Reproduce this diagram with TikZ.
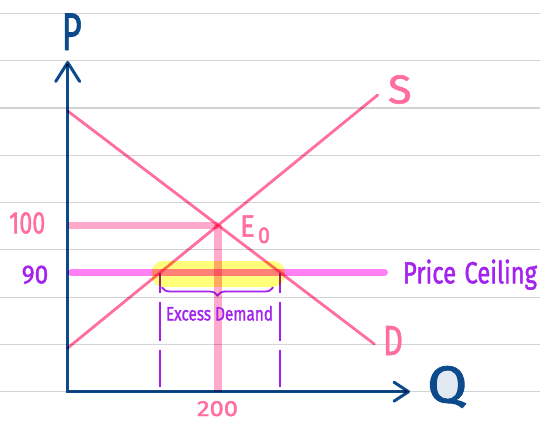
\documentclass[tikz,border=0pt]{standalone}
\usepackage{graphicx}
\usepackage{fontspec}
\setmainfont{Fira Sans}[FakeBold=1.3]
\newfontfamily\thickf{Fira Sans}[FakeBold=1.6]
\usetikzlibrary{arrows.meta,intersections,decorations.pathreplacing}
\definecolor{gridgray}{HTML}{D3D3D3}
\definecolor{axisblue}{HTML}{0D4A8C}
\definecolor{curvepink}{HTML}{FF6E9E}
\definecolor{lightpink}{HTML}{FFAACC}
\definecolor{ceilmag}{HTML}{FF80F5}
\definecolor{labpurple}{HTML}{A322F0}
\definecolor{hlyellow}{HTML}{FFFF7A}
\definecolor{qfill}{HTML}{E2E8F2}
\newcommand\fitw[3]{\resizebox{#1}{\height}{\fontsize{#2}{#2}\selectfont\thickf #3}}
\tikzset{
  gridline/.style={draw=gridgray, line width=1.2pt},
  axisline/.style={draw=axisblue, line width=3pt, line join=miter},
  curveline/.style={draw=curvepink, line width=2.8pt, line cap=round},
  hlpink/.style={draw=lightpink, line width=7.5pt},
  hlceil/.style={draw=ceilmag, line width=7.5pt, line cap=round},
  dashpurple/.style={draw=labpurple, line width=2.4pt,
    dash pattern=on 20.5pt off 9pt on 39pt off 9pt on 37pt off 200pt},
  bracepurple/.style={draw=labpurple, line width=1.8pt, line cap=round,
    decorate, decoration={brace, amplitude=8pt, mirror}},
  lab/.style={anchor=base west, inner sep=0pt, outer sep=0pt}
}
\begin{document}
\begin{tikzpicture}[x=1pt,y=-1pt]
\useasboundingbox (0,0) rectangle (540,423);
\fill[white] (0,0) rectangle (540,423);
% coordinates
\coordinate (O) at (67.7,391.7);
\coordinate (Ptop) at (67.7,61);
\coordinate (Qend) at (410,391.7);
\coordinate (Dstart) at (67.7,111);
\coordinate (Dend) at (374.3,344);
\coordinate (Sstart) at (67.7,348);
\coordinate (Send) at (377.7,95);
\coordinate (Cl) at (67.7,272.5);
\coordinate (Cr) at (388,272.5);
\coordinate (Clr) at (71.5,272.5);
\coordinate (Crr) at (384.2,272.5);
\coordinate (Bot) at (0,387);
\path[name path=dline] (Dstart) -- (Dend);
\path[name path=sline] (Sstart) -- (Send);
\path[name path=cline] (Cl) -- (Cr);
\path[name intersections={of=dline and sline, by=E}];
\path[name intersections={of=sline and cline, by=XL}];
\path[name intersections={of=dline and cline, by=XR}];
\begin{scope}[blend mode=multiply]
% ruled lines
\foreach \i in {0,...,8} \draw[gridline] (0,13.3+47.3*\i) -- (540,13.3+47.3*\i);
% highlight
\fill[hlyellow, rounded corners=12pt] (151.5,261) rectangle (285,287);
% equilibrium guides
\draw[hlpink] (O |- E) -- (E);
\draw[hlpink] (E) -- (E |- O);
% price ceiling
\draw[hlceil] (Clr) -- (Crr);
% dashed quantity lines
\draw[dashpurple] (XL) -- (XL |- Bot);
\draw[dashpurple] (XR) -- (XR |- Bot);
% brace
\draw[bracepurple] (162,287.5) -- (273,287.5);
% curves
\draw[curveline] (Dstart) -- (Dend);
\draw[curveline] (Sstart) -- (Send);
% axes
\draw[axisline, arrows={Straight Barb[length=19pt,width=24pt,round]-Straight Barb[length=14.5pt,width=19pt,round]}] (Ptop) -- (O) -- (Qend);
\end{scope}
% labels
\node[lab, text=axisblue] (plab) at (61.7,50) {\fitw{20pt}{53}{P}};
\fill[qfill] (445,384.7) circle[radius=16pt];
\node[lab, text=axisblue] (qlab) at (427.3,402.5) {\fitw{40pt}{52}{Q}};
\node[lab, text=curvepink] (slab) at (388,103.3) {\fitw{23.7pt}{40}{S}};
\node[lab, text=curvepink] (dlab) at (383,355) {\fitw{20pt}{42}{D}};
\node[lab, text=curvepink] (elab) at (240,236.7) {\fitw{15pt}{31}{E}};
\node[lab, text=curvepink] (esub) at (258,243) {\fitw{12pt}{23}{0}};
\node[lab, text=curvepink] (lab100) at (9.3,233.3) {\fitw{36pt}{31}{100}};
\node[lab, text=labpurple] (lab90) at (21.7,283.3) {\fitw{26.6pt}{26}{90}};
\node[lab, text=curvepink] (lab200) at (197,416) {\fitw{41pt}{22}{200}};
\node[lab, text=labpurple] (ceil) at (403,283.3) {\fitw{134pt}{30.5}{Price\hspace{0.35em}Ceiling}};
\node[lab, text=labpurple] (excess) at (166,320.5) {\fitw{107pt}{19.5}{Excess Demand}};
\end{tikzpicture}
\end{document}
